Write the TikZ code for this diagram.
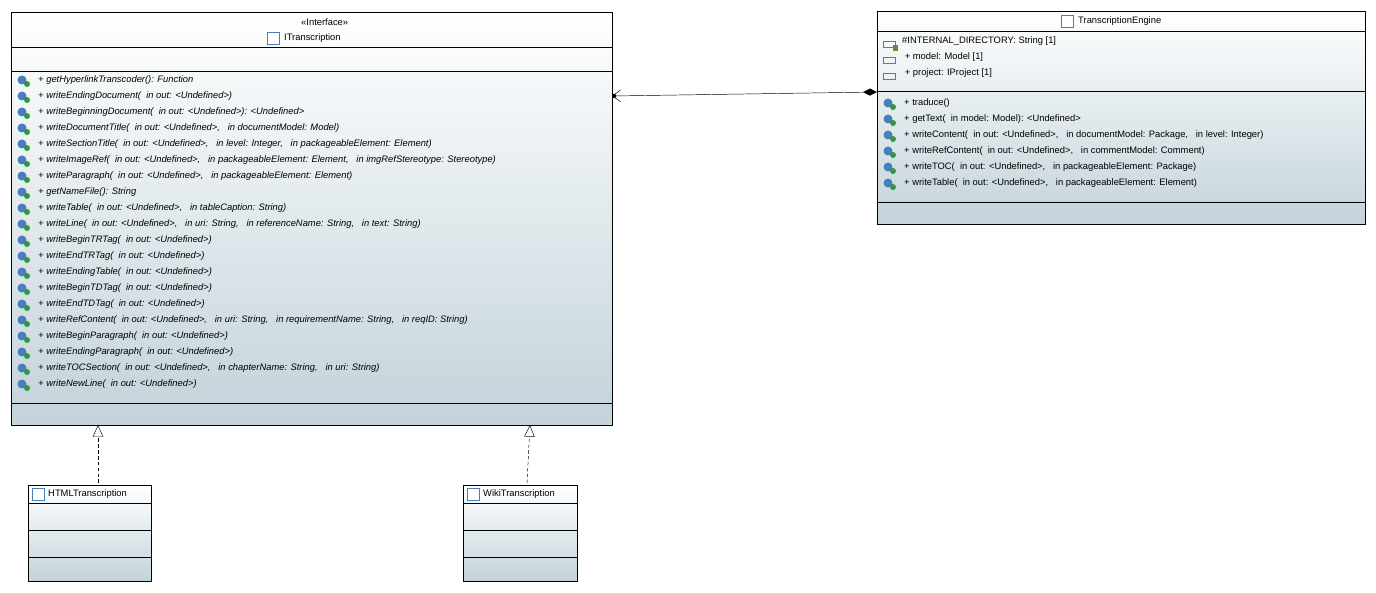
\documentclass[tikz,border=0pt]{standalone}
\usepackage{fontspec}
\setmainfont{Liberation Sans}
\usetikzlibrary{arrows.meta}
\definecolor{umlbot}{HTML}{C3D3DA}
\definecolor{umlicon}{HTML}{4A7EBB}
\definecolor{umlplus}{HTML}{2E9A3C}

\tikzset{
  cls/.style = {draw, top color=white, bottom color=umlbot, anchor=north west, inner sep=0},
  op/.style = {anchor=west, inner sep=0, font=\fontsize{8}{9}\selectfont},
  realize/.style = {densely dashed, -{Triangle[open, length=10pt, width=9pt]}},
}

\begin{document}
\begin{tikzpicture}[x=0.03cm, y=-0.03cm]
\useasboundingbox (0,0) rectangle (1376,593);

% ITranscription
\node[cls, minimum width=601*0.03cm, minimum height=413*0.03cm] (itr) at (11,12) {};
\draw (11,47) -- (612,47);
\draw (11,71) -- (612,71);
\draw (11,403) -- (612,403);
\node[op] at (301,22) {«Interface»};
\draw[umlicon, fill=white] (267,32) rectangle (279,44);
\node[op] at (284,38) {ITranscription};
\foreach [count=\i] \t in {{getHyperlinkTranscoder(): Function},
  {writeEndingDocument(\ \ in out: <Undefined>)},
  {writeBeginningDocument(\ \ in out: <Undefined>): <Undefined>},
  {writeDocumentTitle(\ \ in out: <Undefined>,\ \ \ in documentModel: Model)},
  {writeSectionTitle(\ \ in out: <Undefined>,\ \ \ in level: Integer,\ \ \ in packageableElement: Element)},
  {writeImageRef(\ \ in out: <Undefined>,\ \ \ in packageableElement: Element,\ \ \ in imgRefStereotype: Stereotype)},
  {writeParagraph(\ \ in out: <Undefined>,\ \ \ in packageableElement: Element)},
  {getNameFile(): String},
  {writeTable(\ \ in out: <Undefined>,\ \ \ in tableCaption: String)},
  {writeLine(\ \ in out: <Undefined>,\ \ \ in uri: String,\ \ \ in referenceName: String,\ \ \ in text: String)},
  {writeBeginTRTag(\ \ in out: <Undefined>)},
  {writeEndTRTag(\ \ in out: <Undefined>)},
  {writeEndingTable(\ \ in out: <Undefined>)},
  {writeBeginTDTag(\ \ in out: <Undefined>)},
  {writeEndTDTag(\ \ in out: <Undefined>)},
  {writeRefContent(\ \ in out: <Undefined>,\ \ \ in uri: String,\ \ \ in requirementName: String,\ \ \ in reqID: String)},
  {writeBeginParagraph(\ \ in out: <Undefined>)},
  {writeEndingParagraph(\ \ in out: <Undefined>)},
  {writeTOCSection(\ \ in out: <Undefined>,\ \ \ in chapterName: String,\ \ \ in uri: String)},
  {writeNewLine(\ \ in out: <Undefined>)}} {
  \fill[umlicon] (22,64+16*\i) circle (4.5);
  \fill[umlplus] (27,68+16*\i) circle (3);
  \node[op] at (38,64+16*\i) {\itshape + \t};
}

% TranscriptionEngine
\node[cls, minimum width=488*0.03cm, minimum height=213*0.03cm] (eng) at (877,11) {};
\draw (877,31) -- (1365,31);
\draw (877,91) -- (1365,91);
\draw (877,202) -- (1365,202);
\draw[umlicon, fill=white] (1061,15) rectangle (1073,27);
\node[op] at (1078,21) {TranscriptionEngine};
\foreach [count=\i] \t in {{\#INTERNAL\_DIRECTORY: String [1]},
  {\ + model: Model [1]}, {\ + project: IProject [1]}} {
  \draw[umlicon] (883,25+16*\i) rectangle (895,31+16*\i);
  \node[op] at (902,25+16*\i) {\t};
}
\fill[umlplus!80!orange] (893,45) rectangle (898,51);
\foreach [count=\i] \t in {{traduce()},
  {getText(\ \ in model: Model): <Undefined>},
  {writeContent(\ \ in out: <Undefined>,\ \ \ in documentModel: Package,\ \ \ in level: Integer)},
  {writeRefContent(\ \ in out: <Undefined>,\ \ \ in commentModel: Comment)},
  {writeTOC(\ \ in out: <Undefined>,\ \ \ in packageableElement: Package)},
  {writeTable(\ \ in out: <Undefined>,\ \ \ in packageableElement: Element)}} {
  \fill[umlicon] (888,87+16*\i) circle (4.5);
  \fill[umlplus] (893,91+16*\i) circle (3);
  \node[op] at (904,87+16*\i) {+ \t};
}

% HTMLTranscription
\node[cls, minimum width=123*0.03cm, minimum height=96*0.03cm] (html) at (28,485) {};
\draw (28,503) -- (151,503);
\draw (28,530) -- (151,530);
\draw (28,557) -- (151,557);
\draw[umlicon, fill=white] (32,488) rectangle (44,500);
\node[op] at (48,494) {HTMLTranscription};

% WikiTranscription
\node[cls, minimum width=114*0.03cm, minimum height=96*0.03cm] (wiki) at (463,485) {};
\draw (463,503) -- (577,503);
\draw (463,530) -- (577,530);
\draw (463,557) -- (577,557);
\draw[umlicon, fill=white] (467,488) rectangle (479,500);
\node[op] at (483,494) {WikiTranscription};

% connectors
\coordinate (h1) at (98,483);
\coordinate (h2) at (98,425);
\coordinate (w1) at (527,483);
\coordinate (w2) at (530,425);
\draw[realize] (h1) -- (h2);
\draw[realize] (w1) -- (w2);

\coordinate (c1) at (612,96);
\coordinate (c2) at (877,92);
\draw[{Straight Barb[length=7pt, width=10pt]}-{Diamond[length=12pt, width=6pt]}] (c1) -- (c2);
\fill (c1) ++(2,0) circle (2.2);
\end{tikzpicture}
\end{document}
